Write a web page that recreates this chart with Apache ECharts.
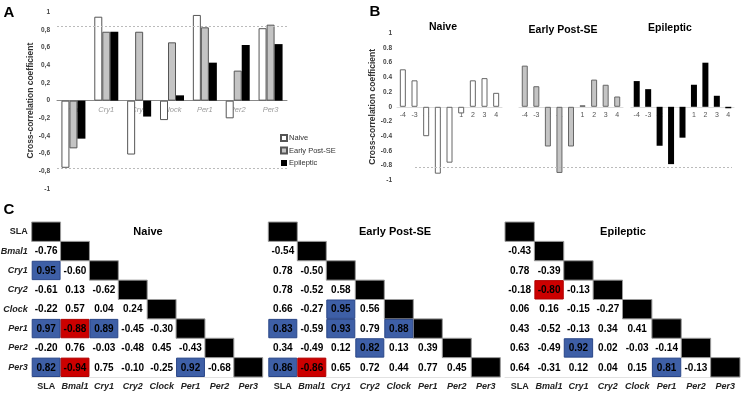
<!DOCTYPE html>
<html>
<head>
<meta charset="utf-8">
<script src="https://cdn.jsdelivr.net/npm/echarts@6/dist/echarts.min.js"></script>
<style>
  html, body { margin: 0; padding: 0; background: #fff; }
  #main { width: 743px; height: 395px; }
</style>
</head>
<body>
<div id="main"></div>
<script>
// genes of the correlation matrices (panel C), SLA first
var genes = ['SLA', 'Bmal1', 'Cry1', 'Cry2', 'Clock', 'Per1', 'Per2', 'Per3'];

// lower triangle rows, row i = genes[i+1], columns SLA..genes[i]
var naiveRows = [
  [-0.76],
  [0.95, -0.60],
  [-0.61, 0.13, -0.62],
  [-0.22, 0.57, 0.04, 0.24],
  [0.97, -0.88, 0.89, -0.45, -0.30],
  [-0.20, 0.76, -0.03, -0.48, 0.45, -0.43],
  [0.82, -0.94, 0.75, -0.10, -0.25, 0.92, -0.68]
];
var earlyRows = [
  [-0.54],
  [0.78, -0.50],
  [0.78, -0.52, 0.58],
  [0.66, -0.27, 0.95, 0.56],
  [0.83, -0.59, 0.93, 0.79, 0.88],
  [0.34, -0.49, 0.12, 0.82, 0.13, 0.39],
  [0.86, -0.86, 0.65, 0.72, 0.44, 0.77, 0.45]
];
var epilRows = [
  [-0.43],
  [0.78, -0.39],
  [-0.18, -0.80, -0.13],
  [0.06, 0.16, -0.15, -0.27],
  [0.43, -0.52, -0.13, 0.34, 0.41],
  [0.63, -0.49, 0.92, 0.02, -0.03, -0.14],
  [0.64, -0.31, 0.12, 0.04, 0.15, 0.81, -0.13]
];

// panel A: SLA vs gene correlation (first column of each matrix)
var geneCats = genes.slice(1);
var slaNaive = naiveRows.map(function (r) { return r[0]; });
var slaEarly = earlyRows.map(function (r) { return r[0]; });
var slaEpil = epilRows.map(function (r) { return r[0]; });
var thrA = [0.84, -0.76];

// panel B: cross-correlation by lag
var lags = ['-4', '-3', '-2', '-1', '0', '1', '2', '3', '4'];
var lagNaive = [0.51, 0.36, -0.40, -0.91, -0.76, -0.09, 0.36, 0.39, 0.19];
var lagEarly = [0.56, 0.28, -0.54, -0.90, -0.54, 0.02, 0.37, 0.30, 0.14];
var lagEpil = [0.35, 0.24, -0.53, -0.78, -0.42, 0.30, 0.60, 0.15, -0.02];
var thrB = -0.82;

var FONT = 'Arial, "Liberation Sans", sans-serif';

function matrixData(rows) {
  var out = [];
  for (var i = 0; i < genes.length; i++) {
    out.push([i, i, null]);
    if (i > 0) {
      rows[i - 1].forEach(function (v, j) { out.push([j, i, v]); });
    }
  }
  return out;
}

function renderCell(params, api) {
  var p = api.coord([api.value(0), api.value(1)]);
  var s = api.size([1, 1]);
  var v = api.value(2);
  var rect = { x: p[0] - s[0] / 2, y: p[1] - s[1] / 2, width: s[0], height: s[1] };
  if (api.value(0) === api.value(1)) {
    return { type: 'rect', shape: rect, style: { fill: '#000', stroke: '#9a9a9a', lineWidth: 1 } };
  }
  var fill = null, stroke = null;
  if (v >= 0.8) { fill = '#3e5fa6'; stroke = '#2a4688'; }
  else if (v <= -0.8) { fill = '#cc0000'; stroke = '#b00000'; }
  var children = [];
  if (fill) {
    children.push({ type: 'rect', shape: { x: rect.x + 0.5, y: rect.y + 0.5, width: rect.width - 1, height: rect.height - 1 },
      style: { fill: fill, stroke: stroke, lineWidth: 1 } });
  }
  children.push({ type: 'text', style: { x: p[0], y: p[1] + 0.5, text: v.toFixed(2), align: 'center', verticalAlign: 'middle',
    font: 'bold 10px ' + FONT, fill: '#000' } });
  return { type: 'group', children: children };
}

var heatGrids = [
  { left: 31.7, width: 231 },
  { left: 268.3, width: 232 },
  { left: 505, width: 235 }
];
var bGrids = [
  { left: 397, width: 105 },
  { left: 519, width: 104 },
  { left: 631, width: 103 }
];
var aH = 176.7, bH = 147;

var grids = [{ left: 57, top: 12.3, width: 230, height: aH, outerBoundsMode: 'none' }];
bGrids.forEach(function (g) { grids.push({ left: g.left, top: 33.3, width: g.width, height: bH, outerBoundsMode: 'none' }); });
grids.push({ left: 415, top: 33.3, width: 317, height: bH, outerBoundsMode: 'none' });
heatGrids.forEach(function (g) { grids.push({ left: g.left, top: 222, width: g.width, height: 155, outerBoundsMode: 'none' }); });

var xAxes = [], yAxes = [], series = [];

// ---- panel A  (axis lifted to the zero line, range is symmetric)
xAxes.push({
  gridIndex: 0, type: 'category', data: geneCats, offset: -aH / 2,
  axisLine: { onZero: false, lineStyle: { color: '#8a8a8a', width: 1 } },
  axisTick: { show: false },
  axisLabel: { color: '#9a9a9a', fontStyle: 'italic', fontSize: 7.5, fontFamily: FONT, margin: 5 }
});
yAxes.push({
  gridIndex: 0, type: 'value', min: -1, max: 1, interval: 0.2,
  name: 'Cross-correlation coefficient', nameLocation: 'middle', nameGap: 20,
  nameTextStyle: { fontSize: 8.5, fontWeight: 'bold', color: '#333', fontFamily: FONT },
  axisLine: { show: false }, axisTick: { show: false }, splitLine: { show: false },
  axisLabel: { fontSize: 6.5, fontWeight: 'bold', color: '#444', fontFamily: FONT, margin: 7,
    formatter: function (v) { return (Math.round(v * 10) / 10).toString().replace('.', ','); } }
});
var aStyles = [
  { name: 'Naive', data: slaNaive, itemStyle: { color: '#fff', borderColor: '#555', borderWidth: 1 } },
  { name: 'Early Post-SE', data: slaEarly, itemStyle: { color: '#c4c4c4', borderColor: '#555', borderWidth: 1 } },
  { name: 'Epileptic', data: slaEpil, itemStyle: { color: '#000' } }
];
aStyles.forEach(function (s, k) {
  var ser = {
    name: s.name, type: 'bar', xAxisIndex: 0, yAxisIndex: 0, data: s.data,
    barWidth: 8, barGap: '0%', itemStyle: s.itemStyle, animation: false
  };
  if (k === 0) {
    ser.markLine = {
      silent: true, symbol: 'none', label: { show: false },
      lineStyle: { color: '#bbb', type: [2, 2], width: 1 },
      data: thrA.map(function (t) { return { yAxis: t }; })
    };
  }
  series.push(ser);
});

// ---- panel B
var bData = [
  { name: 'B Naive', data: lagNaive, itemStyle: { color: '#fff', borderColor: '#666', borderWidth: 1 } },
  { name: 'B Early', data: lagEarly, itemStyle: { color: '#c4c4c4', borderColor: '#666', borderWidth: 1 } },
  { name: 'B Epileptic', data: lagEpil, itemStyle: { color: '#000' } }
];
bData.forEach(function (b, k) {
  var gi = k + 1;
  xAxes.push({
    gridIndex: gi, type: 'category', data: lags, offset: -bH / 2,
    axisLine: { onZero: false, lineStyle: { color: '#dcdcdc', width: 1 } },
    axisTick: { show: false },
    axisLabel: { color: '#555', fontSize: 7, fontFamily: FONT, margin: 5, interval: 0 }
  });
  var ya = {
    gridIndex: gi, type: 'value', min: -1, max: 1, interval: 0.2,
    axisLine: { show: false }, axisTick: { show: false }, splitLine: { show: false },
    axisLabel: { show: k === 0, fontSize: 6.5, fontWeight: 'bold', color: '#444', fontFamily: FONT, margin: 5,
      formatter: function (v) { return (Math.round(v * 10) / 10).toString(); } }
  };
  if (k === 0) {
    ya.name = 'Cross-correlation coefficient';
    ya.nameLocation = 'middle';
    ya.nameGap = 20;
    ya.nameTextStyle = { fontSize: 8.5, fontWeight: 'bold', color: '#333', fontFamily: FONT };
  }
  yAxes.push(ya);
  series.push({
    name: b.name, type: 'bar', xAxisIndex: gi, yAxisIndex: gi, data: b.data,
    barWidth: 6, itemStyle: b.itemStyle, animation: false
  });
});
// helper axes spanning panel B for the threshold line
xAxes.push({ gridIndex: 4, type: 'category', data: lags, show: false });
yAxes.push({ gridIndex: 4, type: 'value', min: -1, max: 1, show: false });
series.push({
  name: 'thrB', type: 'line', xAxisIndex: 4, yAxisIndex: 4, data: [], silent: true,
  markLine: { silent: true, symbol: 'none', label: { show: false },
    lineStyle: { color: '#bbb', type: [2, 2], width: 1 }, data: [{ yAxis: thrB }] }
});

// ---- panel C
var richLabels = {
  n: { fontSize: 9, fontWeight: 'bold', color: '#222', fontFamily: FONT },
  i: { fontSize: 9, fontWeight: 'bold', fontStyle: 'italic', color: '#222', fontFamily: FONT }
};
function geneLabel(v) { return v === 'SLA' ? '{n|' + v + '}' : '{i|' + v + '}'; }

var matrices = [naiveRows, earlyRows, epilRows];
matrices.forEach(function (rows, k) {
  var gi = 5 + k;
  xAxes.push({
    gridIndex: gi, type: 'category', data: genes,
    axisLine: { show: true, lineStyle: { color: '#e2e2e2' } }, axisTick: { show: false },
    axisLabel: { margin: 5, interval: 0, formatter: geneLabel, rich: richLabels }
  });
  yAxes.push({
    gridIndex: gi, type: 'category', data: genes, inverse: true,
    axisLine: { show: false }, axisTick: { show: false },
    axisLabel: { show: k === 0, margin: 4, interval: 0, formatter: geneLabel, rich: richLabels }
  });
  series.push({
    type: 'custom', name: 'C' + k, xAxisIndex: gi, yAxisIndex: gi,
    data: matrixData(rows), encode: { x: 0, y: 1 }, renderItem: renderCell, animation: false
  });
});

function label(text, x, y, size) {
  return { type: 'text', x: x, y: y, silent: true,
    style: { text: text, align: 'center', verticalAlign: 'middle', font: 'bold ' + size + 'px ' + FONT, fill: '#000' } };
}

var option = {
  backgroundColor: '#fff',
  animation: false,
  grid: grids,
  xAxis: xAxes,
  yAxis: yAxes,
  series: series,
  legend: {
    data: ['Naive', 'Early Post-SE', 'Epileptic'],
    orient: 'vertical', left: 275, top: 129,
    itemWidth: 6, itemHeight: 6, itemGap: 4.5,
    icon: 'rect',
    textStyle: { fontSize: 7.5, color: '#333', fontFamily: FONT, padding: [0, 0, 0, -3] }
  },
  graphic: [
    label('A', 9, 13, 15),
    label('B', 375, 12, 15),
    label('C', 9, 210, 15),
    label('Naive', 443, 27, 10.5),
    label('Early Post-SE', 563, 30, 10.5),
    label('Epileptic', 670, 28, 10.5),
    label('Naive', 148, 232, 11),
    label('Early Post-SE', 395, 232, 11),
    label('Epileptic', 623, 232, 11)
  ]
};

var chart = echarts.init(document.getElementById('main'));
chart.setOption(option);
</script>
</body>
</html>
